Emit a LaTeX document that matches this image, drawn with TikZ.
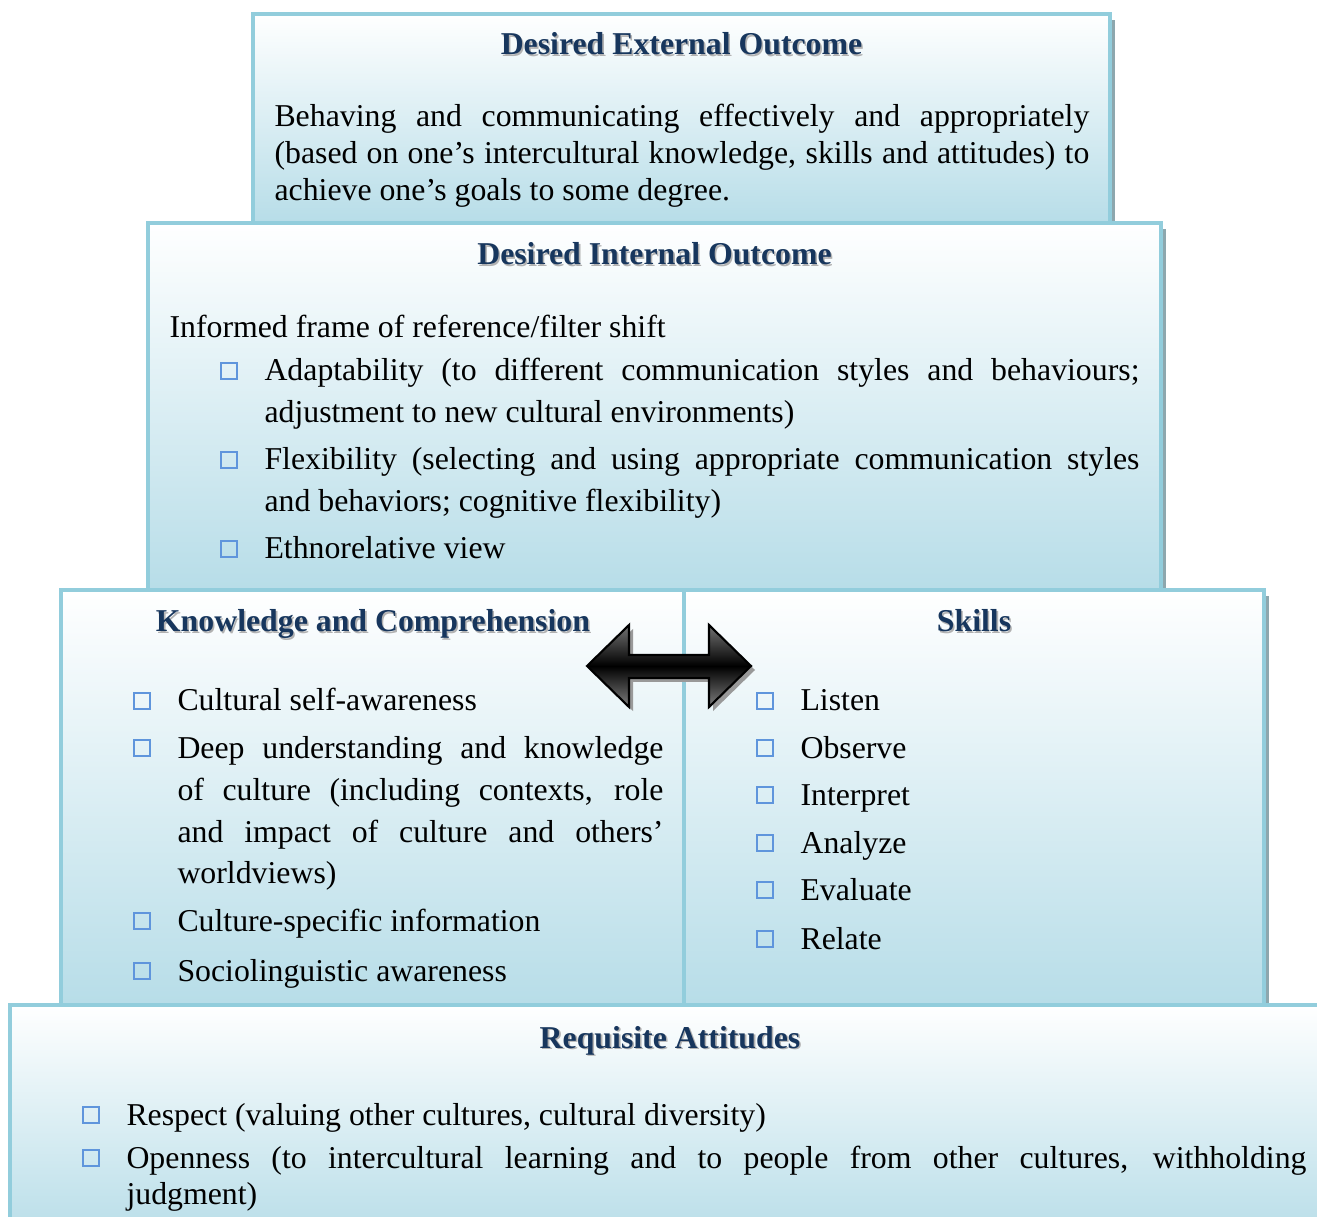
\documentclass[tikz,border=0pt]{standalone}
\usepackage{fontspec}
\setmainfont{Liberation Serif}
\definecolor{boxb}{HTML}{B7DDE8}
\definecolor{boxline}{HTML}{92CDDC}
\definecolor{headc}{HTML}{17365D}
\definecolor{bulc}{HTML}{5F95DC}
\definecolor{shadc}{HTML}{8DA7AE}
\tikzset{
  layer/.style={draw=boxline, line width=1.3pt, top color=white, bottom color=boxb},
  layershadow/.style={fill=shadc},
  head/.style={font=\fontsize{12}{14}\selectfont\bfseries, text=headc, inner sep=0pt, anchor=base},
  headsh/.style={font=\fontsize{12}{14}\selectfont\bfseries, text=black!30, inner sep=0pt, anchor=base, xshift=0.6pt, yshift=-0.6pt},
  body/.style={font=\fontsize{12}{14}\selectfont, inner sep=0pt, anchor=base west},
  bsq/.style={draw=bulc, line width=0.75pt, minimum size=5.9pt, inner sep=0pt, anchor=south west},
  arrowbody/.style={draw=black, line width=0.8pt, top color=black!55, bottom color=black!50, middle color=black},
  arrowshadow/.style={fill=black!40},
}
\begin{document}
\begin{tikzpicture}[x=0.3774pt, y=-0.3774pt]
\clip (0,0) rectangle (1317,1217);
\fill[white] (0,0) rectangle (1317,1217);

% ---------- Box 1: Desired External Outcome
\path[layershadow] (257,20) rectangle (1114.5,227);
\path[layer] (253,14) rectangle (1110,223);
\node[headsh] (h1s) at (681.5,55) {Desired External Outcome};
\node[head] (h1) at (681.5,55) {Desired External Outcome};
\node[body, font=\fontsize{12}{13.85}\selectfont, align=justify, text width=307.5pt] (t1) at (274,127)
 {Behaving and communicating effectively and appropriately\linebreak (based on one’s intercultural knowledge, skills and attitudes) to\linebreak achieve one’s goals to some degree.};

% ---------- Box 2: Desired Internal Outcome
\path[layershadow] (152,229) rectangle (1165.5,594);
\path[layer] (148,223) rectangle (1161,590);
\node[headsh] (h2s) at (654.5,265) {Desired Internal Outcome};
\node[head] (h2) at (654.5,265) {Desired Internal Outcome};
\node[body] (t2) at (169,338) {Informed frame of reference/filter shift};
\node[bsq] (b21) at (220,380) {};
\node[bsq] (b22) at (220,469) {};
\node[bsq] (b23) at (220,558) {};
\node[body, font=\fontsize{12}{15.85}\selectfont, align=justify, text width=330.2pt] (i21) at (264,381)
 {Adaptability (to different communication styles and behaviours;\linebreak adjustment to new cultural environments)};
\node[body, font=\fontsize{12}{15.6}\selectfont, align=justify, text width=330.2pt] (i22) at (264,470)
 {Flexibility (selecting and using appropriate communication styles\linebreak and behaviors; cognitive flexibility)};
\node[body] (i23) at (264,559) {Ethnorelative view};

% ---------- Box 3 left: Knowledge and Comprehension
\path[layershadow] (65,596) rectangle (688.5,1009);
\path[layer] (61,590) rectangle (684,1005);
% ---------- Box 3 right: Skills
\path[layershadow] (688,596) rectangle (1268.5,1009);
\path[layer] (684,590) rectangle (1264,1005);

\node[headsh] (h3s) at (373,632) {Knowledge and Comprehension};
\node[head] (h3) at (373,632) {Knowledge and Comprehension};
\node[bsq] (b31) at (133,710) {};
\node[bsq] (b32) at (133,757) {};
\node[bsq] (b33) at (133,930) {};
\node[bsq] (b34) at (133,980) {};
\node[body] (i31) at (177,711) {Cultural self-awareness};
\node[body, font=\fontsize{12}{15.85}\selectfont, align=justify, text width=183.4pt] (i32) at (177,758)
 {Deep understanding and knowledge\linebreak of culture (including contexts, role\linebreak and impact of culture and others’\linebreak worldviews)};
\node[body] (i33) at (177,931) {Culture-specific information};
\node[body] (i34) at (177,981) {Sociolinguistic awareness};

\node[headsh] (h4s) at (974,632) {Skills};
\node[head] (h4) at (974,632) {Skills};
\node[bsq] (b41) at (756,710) {};
\node[bsq] (b42) at (756,757) {};
\node[bsq] (b43) at (756,804) {};
\node[bsq] (b44) at (756,852) {};
\node[bsq] (b45) at (756,899) {};
\node[bsq] (b46) at (756,948) {};
\node[body] (i41) at (800,711) {Listen};
\node[body] (i42) at (800,758) {Observe};
\node[body] (i43) at (800,805) {Interpret};
\node[body] (i44) at (800,853) {Analyze};
\node[body] (i45) at (800,900) {Evaluate};
\node[body] (i46) at (800,949) {Relate};

% ---------- double block arrow
\begin{scope}[shift={(4,4)}]
\path[arrowshadow] (587,666) -- (629,625) -- (629,655) -- (709,655) -- (709,625) -- (751,666)
  -- (709,707) -- (709,678) -- (629,678) -- (629,707) -- cycle;
\end{scope}
\path[arrowbody] (587,666) -- (629,625) -- (629,655) -- (709,655) -- (709,625) -- (751,666)
  -- (709,707) -- (709,678) -- (629,678) -- (629,707) -- cycle;

% ---------- Box 4: Requisite Attitudes
\path[layer] (10,1005) rectangle (1330,1240);
\node[headsh] (h5s) at (670,1048) {Requisite Attitudes};
\node[head] (h5) at (670,1048) {Requisite Attitudes};
\node[bsq] (b51) at (82,1124) {};
\node[bsq] (b52) at (82,1167) {};
\node[body] (i51) at (126,1125) {Respect (valuing other cultures, cultural diversity)};
\node[body, font=\fontsize{12}{13.6}\selectfont, align=justify, text width=445.3pt] (i52) at (126,1168)
 {Openness (to intercultural learning and to people from other cultures, withholding\linebreak judgment)};
\end{tikzpicture}
\end{document}
